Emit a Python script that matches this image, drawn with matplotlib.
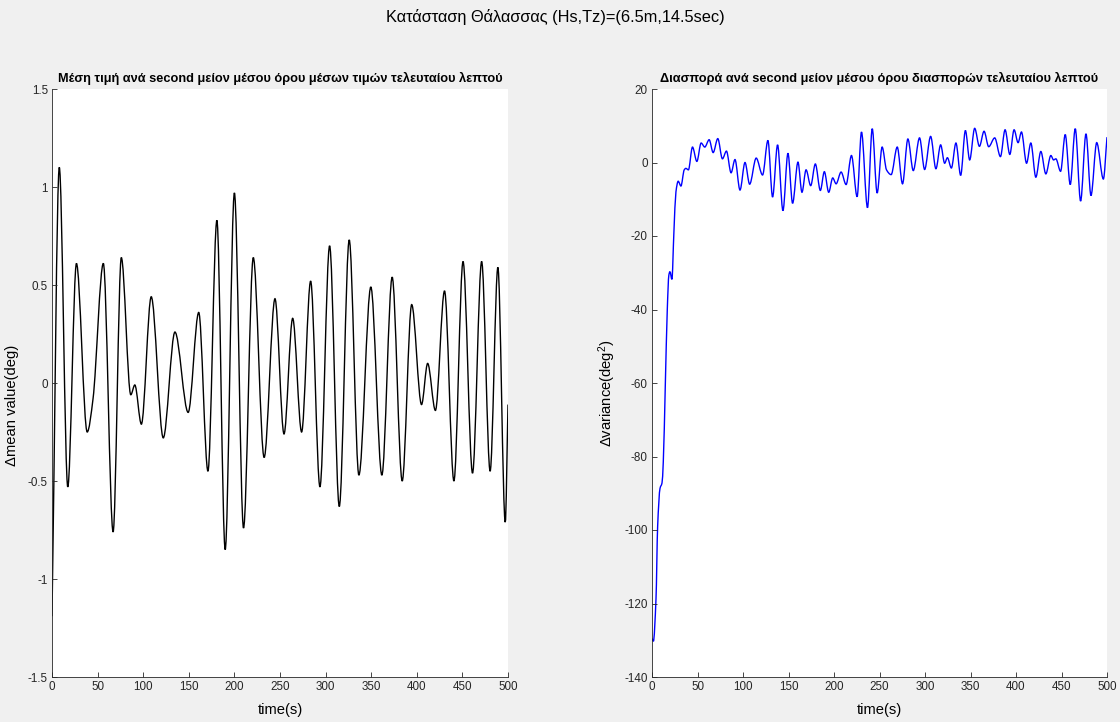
import numpy as np
import matplotlib
matplotlib.use("Agg")
import matplotlib.pyplot as plt
from matplotlib.path import Path
from matplotlib.patches import PathPatch

# ---- data -------------------------------------------------------------
mean_t = [0, 8, 17.3, 26.8, 38.6, 45, 56.3, 67, 76, 86.4, 90.8, 98, 108.8,
          122, 134.8, 149.3, 160.9, 171, 180.8, 189.9, 200, 210, 220.7,
          232.6, 244.5, 254.4, 263.9, 273.7, 283.6, 293.8, 304.4, 315,
          325.9, 336.5, 349.6, 361.7, 373, 384, 394.4, 405.2, 411.9, 420.4,
          430.4, 440.7, 450.7, 461.1, 471.1, 480.4, 488.9, 497, 500]
mean_v = [-1.19, 1.10, -0.53, 0.61, -0.25, -0.08, 0.61, -0.76, 0.64, -0.06,
          -0.01, -0.21, 0.44, -0.28, 0.26, -0.15, 0.36, -0.45, 0.83, -0.85,
          0.97, -0.74, 0.64, -0.38, 0.43, -0.26, 0.33, -0.25, 0.52, -0.53,
          0.70, -0.63, 0.73, -0.47, 0.49, -0.47, 0.54, -0.50, 0.40, -0.11,
          0.10, -0.14, 0.47, -0.50, 0.62, -0.46, 0.62, -0.45, 0.59, -0.71,
          -0.11]

var_t = [0, 1.5, 4.4, 6.2, 8.8, 11, 12.4, 14.6, 16.8, 18.5, 19.7, 21.9, 24,
         26.3, 28.8, 31.8, 35.4, 37.2, 40, 44.5, 49.3, 54, 58, 62.8, 67.2,
         72.3, 77.4, 81.8, 86.9, 91.2, 96.7, 102.2, 107.3, 114.5, 121.5,
         127.4, 132.5, 138, 143.9, 149.4, 154.5, 160.4, 164.8, 169.3, 174.4,
         179.5, 185, 189.4, 194.2, 198.6, 202.3, 207.8, 213.3, 219.2, 225.4,
         230.2, 236.8, 242, 247.4, 252.9, 257.7, 262.8, 269.5, 275.3, 281.2,
         287.1, 294, 299.6, 306.2, 312, 317.2, 321.6, 324.6, 329, 334, 339.2,
         344.4, 349.1, 354.6, 359.8, 364.9, 370, 376.6, 382.9, 388, 393.2,
         397.9, 402.3, 406, 411.6, 416.3, 421.8, 427.3, 432.8, 438.3, 441.3,
         443.8, 449, 454.1, 459.6, 465.1, 471, 476.9, 482.4, 488.7, 496, 500]
var_v = [-129.5, -130.3, -118.7, -99, -88.7, -87.2, -81.5, -60.8, -40, -30.7,
         -29.7, -31.8, -19.4, -8, -5.1, -6.4, -2, -1.6, -2, 4.2, 0.3, 5.3,
         4.2, 6.2, 2.7, 6.5, 1.0, 3.1, -2.8, 0.8, -7.5, 0, -5.9, 1.2, -3.4,
         6.0, -9.4, 4.8, -13.1, 2.5, -11.1, 0.1, -8.1, -2.0, -6.3, -0.4, -7.6,
         -2.5, -8.1, -4.2, -5.8, -2.6, -6.0, 1.9, -9.3, 8.3, -12.3, 9.2, -8.3,
         4.2, -2.0, -3.3, 4.2, -5.8, 6.4, -2.2, 6.7, -1.9, 7.1, -1.7, 4.8,
         -0.2, 1.3, -1.5, 5.3, -3.5, 8.7, 0.7, 9.3, 4.4, 8.5, 4.3, 6.7, 1.6,
         8.9, 2.2, 8.9, 5.4, 8.3, -0.2, 5.3, -4.0, 3.0, -3.1, 1.9, 0.7, 1.0,
         -2.4, 7.6, -6.0, 9.2, -10.5, 7.8, -9.0, 5.4, -4.5, 6.9]

x_ticks = list(range(0, 501, 50))
mean_ticks = [-1.5, -1, -0.5, 0, 0.5, 1, 1.5]
mean_tick_labels = ["-1.5", "-1", "-0.5", "0", "0.5", "1", "1.5"]
var_ticks = list(range(-140, 21, 20))

suptitle = "Κατάσταση Θάλασσας (Hs,Tz)=(6.5m,14.5sec)"
title_mean = "Μέση τιμή ανά second μείον μέσου όρου μέσων τιμών τελευταίου λεπτού"
title_var = "Διασπορά ανά second μείον μέσου όρου διασπορών τελευταίου λεπτού"

# ---- style ------------------------------------------------------------
plt.rcParams["font.family"] = ["Liberation Sans", "DejaVu Sans"]
plt.rcParams["mathtext.fontset"] = "custom"
plt.rcParams["mathtext.rm"] = "Liberation Sans"
plt.rcParams["mathtext.it"] = "Liberation Sans"
plt.rcParams["axes.unicode_minus"] = False
AX_COL = "#262626"
BG = "#F0F0F0"


def smooth_path(t, v):
    """Cubic Hermite path through the points (shape-preserving slopes)."""
    t = np.asarray(t, float)
    v = np.asarray(v, float)
    n = len(t)
    sec = np.diff(v) / np.diff(t)
    m = np.zeros(n)
    m[0], m[-1] = sec[0], sec[-1]
    for i in range(1, n - 1):
        a, b = sec[i - 1], sec[i]
        if a * b <= 0:
            m[i] = 0.0
        else:
            m[i] = 2.0 / (1.0 / a + 1.0 / b)
    verts = [(t[0], v[0])]
    codes = [Path.MOVETO]
    for i in range(n - 1):
        d = (t[i + 1] - t[i]) / 3.0
        verts += [(t[i] + d, v[i] + m[i] * d),
                  (t[i + 1] - d, v[i + 1] - m[i + 1] * d),
                  (t[i + 1], v[i + 1])]
        codes += [Path.CURVE4] * 3
    return Path(verts, codes)


def style_axes(ax):
    for s in ("top", "right"):
        ax.spines[s].set_visible(False)
    for s in ("left", "bottom"):
        ax.spines[s].set_color(AX_COL)
        ax.spines[s].set_linewidth(0.6)
    ax.tick_params(direction="in", length=3.5, width=0.6, colors=AX_COL,
                   labelsize=8.4, pad=3)


fig = plt.figure(figsize=(11.2, 7.22), dpi=100, facecolor=BG)
W, H = 1120.0, 722.0

ax1 = fig.add_axes([52 / W, 1 - 677 / H, 456 / W, 588 / H])
ax2 = fig.add_axes([652 / W, 1 - 677 / H, 455 / W, 588 / H])

# left: mean value
ax1.add_patch(PathPatch(smooth_path(mean_t, mean_v), facecolor="none",
                        edgecolor="black", lw=1.0))
ax1.set_xlim(0, 500)
ax1.set_ylim(-1.5, 1.5)
ax1.set_xticks(x_ticks)
ax1.set_yticks(mean_ticks)
ax1.set_yticklabels(mean_tick_labels)
style_axes(ax1)
ax1.set_title(title_mean, fontsize=9.2, fontweight="bold", pad=5)
ax1.set_xlabel("time(s)", fontsize=10.6)
ax1.set_ylabel("Δmean value(deg)", fontsize=10.6)
ax1.xaxis.set_label_coords(0.5, -0.045)
ax1.yaxis.set_label_coords(-0.072, 0.462)

# right: variance
ax2.add_patch(PathPatch(smooth_path(var_t, var_v), facecolor="none",
                        edgecolor="#0000FF", lw=1.0))
ax2.set_xlim(0, 500)
ax2.set_ylim(-140, 20)
ax2.set_xticks(x_ticks)
ax2.set_yticks(var_ticks)
style_axes(ax2)
ax2.set_title(title_var, fontsize=9.2, fontweight="bold", pad=5)
ax2.set_xlabel("time(s)", fontsize=10.6)
ax2.set_ylabel("Δvariance(deg$^2$)", fontsize=10.6)
ax2.xaxis.set_label_coords(0.5, -0.045)
ax2.yaxis.set_label_coords(-0.075, 0.483)

fig.text(555 / W, 1 - 17 / H, suptitle, ha="center", va="center",
         fontsize=11.8, color="black")

fig.savefig("out.png", dpi=100, facecolor=BG)
